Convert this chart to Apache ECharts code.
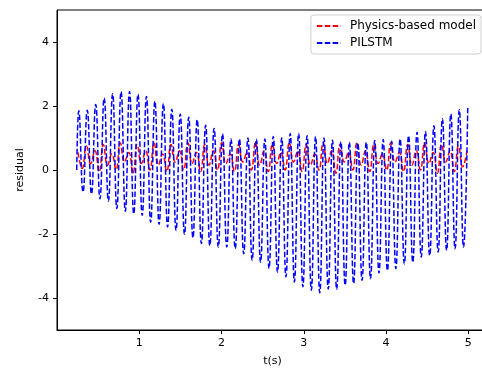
<!DOCTYPE html>
<html>
<head>
<meta charset="utf-8">
<script src="https://cdn.jsdelivr.net/npm/echarts@6/dist/echarts.min.js"></script>
<style>
  html, body { margin: 0; padding: 0; background: #fff; }
  #chart { width: 482px; height: 369px; }
</style>
</head>
<body>
<div id="chart"></div>
<script>
// PILSTM residual: alternating extrema
const blueStart = [0.24, 0.0];
const blueT0 = 0.265;      // time of first peak
const bluePeriod = 0.1028; // spacing between peaks
const bluePeaks = [
  1.85, 1.87, 2.05, 2.25, 2.38, 2.45, 2.45, 2.37, 2.3, 2.15,
  2.08, 1.9, 1.75, 1.65, 1.57, 1.4, 1.3, 1.13, 0.97, 0.97,
  1.0, 0.97, 0.97, 1.05, 1.0, 1.14, 1.14, 1.07, 1.05, 1.0,
  0.93, 0.88, 0.87, 0.85, 0.87, 0.92, 0.95, 0.9, 0.97, 1.07,
  1.18, 1.2, 1.38, 1.6, 1.75, 1.88, 1.95
];
const blueTroughs = [
  -0.69, -0.75, -0.9, -0.97, -1.2, -1.29, -1.37, -1.42, -1.63, -1.7,
  -1.78, -1.89, -2.01, -2.12, -2.3, -2.36, -2.41, -2.41, -2.46, -2.62,
  -2.82, -2.88, -3.08, -3.19, -3.34, -3.5, -3.65, -3.76, -3.84, -3.72,
  -3.73, -3.6, -3.55, -3.45, -3.4, -3.22, -3.14, -3.08, -2.93, -2.88,
  -2.72, -2.67, -2.56, -2.51, -2.46, -2.41
];

// Physics-based model residual: extrema every half blue period
const redT0 = 0.255;
const redStep = 0.0514;
const redValues = [
  0.55, 0.05, 0.75, 0.2, 0.6, -0.05, 0.8, 0.15, 0.5, 0.0,
  0.85, 0.25, 0.55, -0.1, 0.8, 0.2, 0.6, 0.0, 0.85, 0.15,
  0.5, -0.05, 0.8, 0.25, 0.6, 0.0, 0.85, 0.2, 0.55, -0.05,
  0.8, 0.15, 0.6, 0.0, 0.85, 0.2, 0.5, -0.05, 0.8, 0.25,
  0.55, 0.0, 0.85, 0.15, 0.6, -0.05, 0.8, 0.2, 0.55, 0.0,
  0.85, 0.25, 0.6, -0.05, 0.8, 0.15, 0.5, 0.0, 0.85, 0.2,
  0.6, -0.1, 0.8, 0.25, 0.55, 0.0, 0.85, 0.15, 0.6, -0.05,
  0.8, 0.2, 0.5, 0.0, 0.85, 0.25, 0.55, -0.05, 0.8, 0.15,
  0.6, 0.0, 0.85, 0.2, 0.55, -0.1, 0.8, 0.25, 0.6, -0.05,
  0.75, 0.1, 0.6
];

const xTicks = [1, 2, 3, 4, 5];
const yTicks = [-4, -2, 0, 2, 4];

const bluePoints = [blueStart];
bluePeaks.forEach((p, k) => {
  const t = blueT0 + k * bluePeriod;
  bluePoints.push([t, p]);
  if (k < blueTroughs.length) bluePoints.push([t + bluePeriod / 2, blueTroughs[k]]);
});
const redPoints = redValues.map((v, i) => [redT0 + i * redStep, v]);

const font = 'DejaVu Sans';
const dash = [5.5, 2.4];

const chart = echarts.init(document.getElementById('chart'), null, { renderer: 'canvas' });
chart.setOption({
  animation: false,
  backgroundColor: '#fff',
  textStyle: { fontFamily: font },
  grid: {
    left: 57, right: -6, top: 10, bottom: 39,
    outerBoundsMode: 'none', containLabel: false,
    show: true, borderColor: '#000', borderWidth: 1
  },
  legend: {
    right: 1, top: 15,
    orient: 'vertical',
    itemWidth: 24, itemHeight: 10, itemGap: 5,
    padding: [5, 5, 5, 5],
    backgroundColor: 'rgba(255,255,255,0.8)',
    borderColor: '#d0d0d0', borderWidth: 1, borderRadius: 3,
    itemStyle: { opacity: 0 },
    textStyle: { fontFamily: font, fontSize: 12, color: '#000', padding: [0, 0, 0, 4] },
    data: ['Physics-based model', 'PILSTM']
  },
  xAxis: {
    type: 'value', min: 0, max: 5.24,
    name: 't(s)', nameLocation: 'middle', nameGap: 26,
    nameTextStyle: { fontFamily: font, fontSize: 11, color: '#000' },
    axisLine: { onZero: false, lineStyle: { color: '#000', width: 1 } },
    axisTick: { customValues: xTicks, length: 4, lineStyle: { color: '#000' } },
    axisLabel: { customValues: xTicks, fontFamily: font, fontSize: 11, color: '#000', margin: 8 },
    splitLine: { show: false }
  },
  yAxis: {
    type: 'value', min: -5, max: 5,
    name: 'residual', nameLocation: 'middle', nameGap: 31, nameRotate: 90,
    nameTextStyle: { fontFamily: font, fontSize: 11, color: '#000' },
    axisLine: { show: true, onZero: false, lineStyle: { color: '#000', width: 1 } },
    axisTick: { show: true, customValues: yTicks, length: 4, lineStyle: { color: '#000' } },
    axisLabel: { customValues: yTicks, fontFamily: font, fontSize: 11, color: '#000', margin: 8 },
    splitLine: { show: false }
  },
  series: [
    {
      name: 'Physics-based model', type: 'line', data: redPoints,
      showSymbol: false, symbol: 'none', smooth: 0.5,
      lineStyle: { color: '#ff0000', width: 1.5, type: dash },
      itemStyle: { color: '#ff0000' }
    },
    {
      name: 'PILSTM', type: 'line', data: bluePoints,
      showSymbol: false, symbol: 'none', smooth: 0.5,
      lineStyle: { color: '#0000ff', width: 1.5, type: dash },
      itemStyle: { color: '#0000ff' }
    }
  ]
});
</script>
</body>
</html>
